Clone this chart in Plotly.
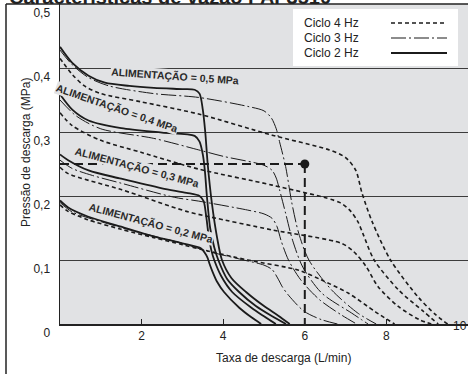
import plotly.graph_objects as go

# ---------------- data ----------------
# Ciclo 2 Hz (solid)
x_02_2hz = [0, 0.2, 0.68, 1.5, 2.3, 3.0, 3.46, 3.56, 3.62, 3.66, 3.75, 3.85, 4.02, 4.4, 4.7, 4.93]
y_02_2hz = [0.193, 0.182, 0.168, 0.152, 0.137, 0.126, 0.118, 0.11, 0.103, 0.095, 0.08, 0.066, 0.05, 0.025, 0.01, 0.0]
x_03_2hz = [0, 0.2, 0.7, 1.5, 2.5, 3.1, 3.42, 3.52, 3.58, 3.64, 3.71, 3.78, 3.95, 4.22, 4.7, 5.0, 5.29]
y_03_2hz = [0.265, 0.256, 0.24, 0.227, 0.212, 0.205, 0.2, 0.192, 0.17, 0.14, 0.115, 0.1, 0.075, 0.05, 0.025, 0.012, 0.0]
x_04_2hz = [0, 0.3, 0.7, 1.5, 2.5, 3.3, 3.42, 3.5, 3.55, 3.6, 3.68, 3.78, 3.88, 4.1, 4.39, 4.8, 5.2, 5.54]
y_04_2hz = [0.359, 0.335, 0.318, 0.306, 0.299, 0.294, 0.285, 0.265, 0.24, 0.2, 0.15, 0.12, 0.10, 0.07, 0.05, 0.028, 0.012, 0.0]
x_05_2hz = [0, 0.3, 0.7, 1.1, 1.7, 2.3, 3.0, 3.3, 3.42, 3.5, 3.56, 3.62, 3.72, 3.85, 3.97, 4.2, 4.56, 5.0, 5.35, 5.63]
y_05_2hz = [0.433, 0.408, 0.388, 0.377, 0.372, 0.369, 0.367, 0.366, 0.36, 0.335, 0.30, 0.25, 0.19, 0.135, 0.10, 0.072, 0.05, 0.028, 0.013, 0.0]

# Ciclo 3 Hz (dash-dot)
x_02_3hz = [0, 0.3, 1.0, 2.0, 3.0, 3.6, 4.5, 5.0, 5.2, 5.35, 5.45, 5.6, 5.98, 6.4, 6.8]
y_02_3hz = [0.19, 0.175, 0.16, 0.142, 0.126, 0.114, 0.1, 0.092, 0.085, 0.07, 0.058, 0.045, 0.02, 0.007, 0.0]
x_03_3hz = [0, 0.3, 0.8, 1.5, 2.8, 3.4, 4.6, 5.0, 5.2, 5.32, 5.42, 5.6, 5.9, 6.36, 6.9, 7.27]
y_03_3hz = [0.256, 0.243, 0.232, 0.22, 0.198, 0.192, 0.178, 0.172, 0.165, 0.152, 0.13, 0.1, 0.069, 0.038, 0.014, 0.0]
x_04_3hz = [0, 0.4, 1.0, 2.3, 3.4, 4.0, 5.0, 5.2, 5.3, 5.38, 5.53, 5.7, 5.95, 6.42, 7.15, 7.55]
y_04_3hz = [0.35, 0.325, 0.305, 0.29, 0.272, 0.262, 0.248, 0.24, 0.228, 0.21, 0.173, 0.131, 0.089, 0.048, 0.017, 0.0]
x_05_3hz = [0, 0.3, 0.7, 1.2, 2.3, 3.4, 4.6, 5.0, 5.18, 5.3, 5.38, 5.53, 5.68, 5.85, 6.1, 6.66, 7.3, 7.75]
y_05_3hz = [0.428, 0.405, 0.385, 0.372, 0.36, 0.354, 0.34, 0.333, 0.322, 0.305, 0.285, 0.246, 0.19, 0.142, 0.1, 0.053, 0.017, 0.0]

# Ciclo 4 Hz (dashed)
x_02_4hz = [0, 0.2, 0.68, 1.5, 2.3, 3.0, 3.5, 4.6, 5.85, 6.4, 7.07, 7.73, 8.2]
y_02_4hz = [0.186, 0.176, 0.163, 0.148, 0.135, 0.124, 0.116, 0.1, 0.084, 0.069, 0.048, 0.019, 0.0]
x_03_4hz = [0, 0.2, 1.5, 3.1, 3.7, 5.2, 6.9, 7.2, 7.5, 7.8, 8.3, 8.8, 9.1]
y_03_4hz = [0.245, 0.235, 0.21, 0.176, 0.167, 0.147, 0.126, 0.113, 0.09, 0.058, 0.027, 0.007, 0.0]
x_04_4hz = [0, 0.3, 1.0, 2.0, 3.4, 5.2, 6.85, 7.1, 7.3, 7.42, 7.7, 8.3, 8.9, 9.27]
y_04_4hz = [0.33, 0.31, 0.287, 0.268, 0.242, 0.217, 0.19, 0.178, 0.16, 0.142, 0.1, 0.053, 0.02, 0.0]
x_05_4hz = [0, 0.3, 0.6, 1.0, 2.0, 3.4, 5.2, 6.6, 7.0, 7.25, 7.4, 7.65, 8.1, 8.78, 9.2, 9.5]
y_05_4hz = [0.415, 0.39, 0.372, 0.36, 0.347, 0.328, 0.295, 0.272, 0.26, 0.24, 0.205, 0.16, 0.1, 0.042, 0.015, 0.0]

# operating point example
ref_x = 6.0
ref_y = 0.25

# labels
supply_labels = ["ALIMENTAÇÃO = 0,5 MPa", "ALIMENTAÇÃO = 0,4 MPa",
                 "ALIMENTAÇÃO = 0,3 MPa", "ALIMENTAÇÃO = 0,2 MPa"]
supply_label_x = [2.83, 1.39, 1.88, 2.24]
supply_label_y = [0.3875, 0.3375, 0.245, 0.158]
supply_label_angle = [4, 19, 15, 15]

legend_labels = ["Ciclo 4 Hz", "Ciclo 3 Hz", "Ciclo 2 Hz"]
x_tickvals = [2, 4, 6, 8]
x_ticktext = ["2", "4", "6", "8"]
y_tickvals = [0, 0.1, 0.2, 0.3, 0.4, 0.5]
y_ticktext = ["0", "0,1", "0,2", "0,3", "0,4", "0,5"]

title_text = "Características de vazão PAF3510"
x_title = "Taxa de descarga (L/min)"
y_title = "Pressão de descarga (MPa)"

# ---------------- styles ----------------
INK = "#1b1b1b"
BG = "#e1e2e4"
GRID = "#3c3c3c"
FONT = "Liberation Sans, Arial, sans-serif"
DASH_4 = "4px,3px"
DASH_3 = "15px,3px,2px,3px"
styles = {
    "4": dict(color=INK, width=1.6, dash=DASH_4),
    "3": dict(color=INK, width=1.0, dash=DASH_3),
    "2": dict(color=INK, width=1.8, dash="solid"),
}

curves = [
    ("4", x_02_4hz, y_02_4hz), ("4", x_03_4hz, y_03_4hz), ("4", x_04_4hz, y_04_4hz), ("4", x_05_4hz, y_05_4hz),
    ("3", x_02_3hz, y_02_3hz), ("3", x_03_3hz, y_03_3hz), ("3", x_04_3hz, y_04_3hz), ("3", x_05_3hz, y_05_3hz),
    ("2", x_02_2hz, y_02_2hz), ("2", x_03_2hz, y_03_2hz), ("2", x_04_2hz, y_04_2hz), ("2", x_05_2hz, y_05_2hz),
]

fig = go.Figure()
for key, xs, ys in curves:
    fig.add_trace(go.Scatter(x=xs, y=ys, mode="lines", line=dict(shape="spline", smoothing=0.8, **styles[key]),
                             showlegend=False, hoverinfo="skip"))

# reference dashed lines and point
fig.add_trace(go.Scatter(x=[0, ref_x], y=[ref_y, ref_y], mode="lines",
                         line=dict(color=INK, width=2, dash="9px,5px"), showlegend=False, hoverinfo="skip"))
fig.add_trace(go.Scatter(x=[ref_x, ref_x], y=[ref_y, 0], mode="lines",
                         line=dict(color=INK, width=2, dash="9px,5px"), showlegend=False, hoverinfo="skip"))
fig.add_trace(go.Scatter(x=[ref_x], y=[ref_y], mode="markers",
                         marker=dict(color=INK, size=9), showlegend=False, hoverinfo="skip"))

W, H = 468, 374
L, R, T, B = 60, 0, 4, 50
pw, ph = W - L - R, H - T - B


def px(xp):
    return (xp - L) / pw


def py(yp):
    return (H - B - yp) / ph


annotations = []
for txt, ax_, ay_, ang in zip(supply_labels, supply_label_x, supply_label_y, supply_label_angle):
    annotations.append(dict(x=ax_, y=ay_, xref="x", yref="y", text="<b>" + txt + "</b>", showarrow=False,
                            textangle=ang, font=dict(family=FONT, size=10.5, color="#2a2a2a"),
                            bgcolor=BG, borderpad=0))

# legend (custom, text left, sample right)
shapes = []
shapes.append(dict(type="rect", xref="paper", yref="paper", x0=px(293), x1=px(458), y0=py(66), y1=py(9),
                   fillcolor="white", line=dict(width=0), layer="above"))
for i, (lab, key) in enumerate(zip(legend_labels, ["4", "3", "2"])):
    yy = 23 + 15 * i
    annotations.append(dict(x=px(302), y=py(yy), xref="paper", yref="paper", xanchor="left", yanchor="middle",
                            text=lab, showarrow=False, font=dict(family=FONT, size=12, color="#222")))
    st = styles[key]
    shapes.append(dict(type="line", xref="paper", yref="paper", x0=px(391), x1=px(447), y0=py(yy), y1=py(yy),
                       line=dict(color=INK, width=max(st["width"], 1.2), dash=st["dash"]), layer="above"))

# frame lines
shapes.append(dict(type="line", xref="paper", yref="paper", x0=px(6), x1=1.0, y0=1.0, y1=1.0,
                   line=dict(color="#222", width=1.5), layer="above"))
shapes.append(dict(type="line", xref="paper", yref="paper", x0=px(6), x1=px(6), y0=1.0, y1=py(H + 2),
                   line=dict(color="#222", width=1.5), layer="above"))

# title (clipped at top as in reference)
annotations.append(dict(x=px(7), y=py(10), xref="paper", yref="paper", xanchor="left", yanchor="bottom",
                        text="<b>" + title_text + "</b>", showarrow=False,
                        font=dict(family=FONT, size=20, color="#222")))
# axis titles
annotations.append(dict(x=px(283), y=py(367), xref="paper", yref="paper", text=x_title, showarrow=False,
                        font=dict(family=FONT, size=12, color="#222")))
annotations.append(dict(x=px(17), y=py(153), xref="paper", yref="paper", text=y_title, showarrow=False,
                        textangle=-90, font=dict(family=FONT, size=12, color="#222")))
# "10" tick label near the right edge
annotations.append(dict(x=px(460), y=py(335), xref="paper", yref="paper", text="10", showarrow=False,
                        xanchor="center", font=dict(family=FONT, size=12, color="#222")))

fig.update_layout(
    width=W, height=H,
    margin=dict(l=L, r=R, t=T, b=B),
    paper_bgcolor="white", plot_bgcolor=BG,
    annotations=annotations, shapes=shapes,
    showlegend=False,
    xaxis=dict(range=[0, 10], tickvals=x_tickvals, ticktext=x_ticktext, ticks="inside", ticklen=5,
               tickcolor="#222", showgrid=False, zeroline=False, showline=True, linecolor="#222", linewidth=1.5,
               tickfont=dict(family=FONT, size=12, color="#222"), fixedrange=True),
    yaxis=dict(range=[0, 0.5], tickvals=y_tickvals, ticktext=y_ticktext, ticks="", showgrid=True,
               gridcolor=GRID, gridwidth=1, zeroline=False, showline=True, linecolor="#222", linewidth=1.5,
               tickfont=dict(family=FONT, size=12, color="#222"), ticklabelshift=9, ticklabelstandoff=6,
               ticklabeloverflow="allow", fixedrange=True),
)

fig.write_html("out.html", config={"displayModeBar": False, "staticPlot": True},
               post_script="document.body.style.margin='0px';document.body.style.overflow='hidden';")
